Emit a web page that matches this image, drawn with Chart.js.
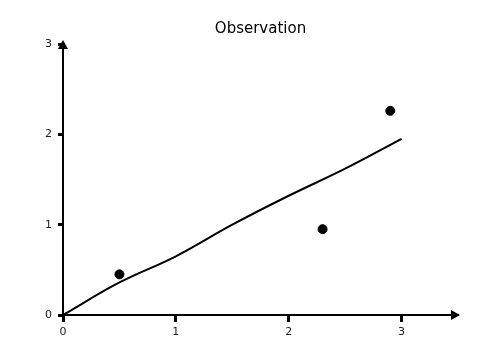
<!DOCTYPE html>
<html>
<head>
<meta charset="utf-8">
<script src="https://cdn.jsdelivr.net/npm/chart.js@4/dist/chart.umd.min.js"></script>
<style>
  html, body { margin: 0; padding: 0; background: #fff; }
  #wrap { width: 504px; height: 360px; }
</style>
</head>
<body>
<div id="wrap"><canvas id="obsChart" width="504" height="360"></canvas></div>
<script>
const obsX = [0.5, 2.3, 2.9];
const obsY = [0.45, 0.95, 2.26];
const fitX = [0, 0.5, 1, 1.5, 2, 2.5, 3];
const fitY = [0, 0.36, 0.65, 1.0, 1.32, 1.62, 1.95];
const xTicks = [0, 1, 2, 3];
const yTicks = [0, 1, 2, 3];

const handFont = "'DejaVu Sans', sans-serif";

// arrow heads on the axis ends
const axisArrows = {
  id: "axisArrows",
  afterDraw(chart) {
    const { ctx, chartArea } = chart;
    const x0 = chartArea.left, y0 = chartArea.bottom;
    ctx.save();
    ctx.fillStyle = "#000";
    ctx.beginPath();
    ctx.moveTo(chartArea.right + 2, y0);
    ctx.lineTo(chartArea.right - 7, y0 - 5);
    ctx.lineTo(chartArea.right - 7, y0 + 5);
    ctx.closePath();
    ctx.fill();
    ctx.beginPath();
    ctx.moveTo(x0, chartArea.top - 4);
    ctx.lineTo(x0 - 5, chartArea.top + 5);
    ctx.lineTo(x0 + 5, chartArea.top + 5);
    ctx.closePath();
    ctx.fill();
    ctx.restore();
  }
};

new Chart(document.getElementById("obsChart").getContext("2d"), {
  type: "scatter",
  data: {
    datasets: [
      {
        label: "points",
        data: obsX.map((x, i) => ({ x: x, y: obsY[i] })),
        backgroundColor: "#000",
        borderColor: "#000",
        pointRadius: 4.5,
        showLine: false,
      },
      {
        label: "fit",
        data: fitX.map((x, i) => ({ x: x, y: fitY[i] })),
        borderColor: "#000",
        borderWidth: 2,
        pointRadius: 0,
        showLine: true,
        tension: 0.4,
        fill: false,
      },
    ],
  },
  options: {
    responsive: false,
    animation: false,
    layout: { padding: { top: 0, right: 46, bottom: 0, left: 0 } },
    plugins: {
      legend: { display: false },
      tooltip: { enabled: false },
      title: {
        display: true,
        fullSize: false,
        text: "Observation",
        color: "#000",
        font: { family: handFont, size: 15, weight: "normal" },
        padding: { top: 20, bottom: 6 },
      },
    },
    scales: {
      x: {
        type: "linear",
        min: 0,
        max: 3.5,
        afterBuildTicks: (s) => { s.ticks = xTicks.map((v) => ({ value: v })); },
        afterFit: (s) => { s.height = 45; },
        grid: { drawOnChartArea: false, drawTicks: true, tickLength: 7, tickWidth: 3, tickColor: "#000" },
        border: { display: true, color: "#000", width: 2 },
        ticks: { color: "#222", font: { family: handFont, size: 11 }, padding: 4 },
      },
      y: {
        type: "linear",
        min: 0,
        max: 3,
        afterBuildTicks: (s) => { s.ticks = yTicks.map((v) => ({ value: v })); },
        afterFit: (s) => { s.width = 63; },
        grid: { drawOnChartArea: false, drawTicks: true, tickLength: 5, tickWidth: 3, tickColor: "#000" },
        border: { display: true, color: "#000", width: 2 },
        ticks: { color: "#222", font: { family: handFont, size: 11 }, padding: 6 },
      },
    },
  },
  plugins: [axisArrows],
});
</script>
</body>
</html>
